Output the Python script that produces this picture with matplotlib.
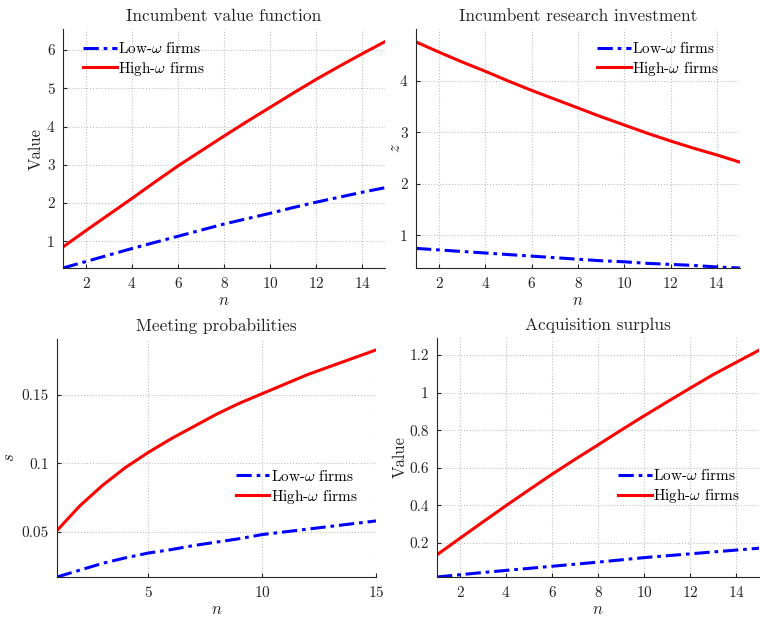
import numpy as np
import matplotlib
matplotlib.use('Agg')
import matplotlib.pyplot as plt
from matplotlib.ticker import FuncFormatter

plt.rcParams['font.family'] = ['cmr10', 'DejaVu Serif']
plt.rcParams['mathtext.fontset'] = 'cm'
plt.rcParams['axes.formatter.use_mathtext'] = True
plt.rcParams['font.size'] = 10

# firm count grid
n = np.arange(1, 16)

# Incumbent value function
value_low = [0.30, 0.47, 0.64, 0.81, 0.97, 1.13, 1.29, 1.45, 1.59, 1.73, 1.88, 2.02, 2.15, 2.28, 2.40]
value_high = [0.85, 1.28, 1.70, 2.12, 2.55, 2.97, 3.36, 3.75, 4.13, 4.50, 4.87, 5.23, 5.57, 5.90, 6.22]

# Incumbent research investment
z_low = [0.75, 0.72, 0.69, 0.66, 0.63, 0.60, 0.57, 0.54, 0.51, 0.49, 0.46, 0.44, 0.42, 0.39, 0.37]
z_high = [4.75, 4.55, 4.36, 4.18, 3.99, 3.81, 3.64, 3.47, 3.30, 3.14, 2.98, 2.83, 2.69, 2.56, 2.42]

# Meeting probabilities
s_low = [0.017, 0.022, 0.027, 0.031, 0.0345, 0.037, 0.040, 0.0425, 0.045, 0.048, 0.050, 0.052, 0.054, 0.056, 0.058]
s_high = [0.051, 0.069, 0.084, 0.097, 0.108, 0.118, 0.127, 0.136, 0.144, 0.151, 0.158, 0.165, 0.171, 0.177, 0.183]

# Acquisition surplus
surplus_low = [0.020, 0.032, 0.044, 0.055, 0.066, 0.077, 0.088, 0.099, 0.111, 0.123, 0.133, 0.143, 0.153, 0.163, 0.173]
surplus_high = [0.138, 0.226, 0.313, 0.399, 0.483, 0.566, 0.645, 0.722, 0.800, 0.876, 0.950, 1.023, 1.095, 1.160, 1.225]

labels = [r'Low-$\omega$ firms', r'High-$\omega$ firms']
dark = '#262626'

fig = plt.figure(figsize=(7.6, 6.18), dpi=100)

# axes rectangles in pixels: left, right, top, bottom
boxes = [(63, 385, 29, 268), (416, 740, 29, 268), (57, 376, 339, 577), (437, 759, 338, 577)]
panels = [
    ('Incumbent value function', 'Value', value_low, value_high, (0.30, 6.55), [1, 2, 3, 4, 5, 6], range(2, 16, 2), (0.062, 0.95), 2),
    ('Incumbent research investment', '$z$', z_low, z_high, (0.37, 5.0), [1, 2, 3, 4], range(2, 16, 2), (0.559, 0.95), -2),
    ('Meeting probabilities', '$s$', s_low, s_high, (0.017, 0.191), [0.05, 0.1, 0.15], [5, 10, 15], (0.56, 0.455), 3),
    ('Acquisition surplus', 'Value', surplus_low, surplus_high, (0.02, 1.29), [0.2, 0.4, 0.6, 0.8, 1, 1.2], range(2, 16, 2), (0.562, 0.455), 1),
]

for (l, r, t, b), (title, ylab, lo, hi, ylim, yt, xt, lpos, ypad) in zip(boxes, panels):
    ax = fig.add_axes([l / 760, 1 - b / 618, (r - l) / 760, (b - t) / 618])
    ax.plot(n, lo, color='blue', lw=2.2, linestyle=(0, (5, 1.6, 1.2, 1.6)), label=labels[0])
    ax.plot(n, hi, color='red', lw=2.2, label=labels[1])
    ax.set_xlim(1, 15)
    ax.set_ylim(*ylim)
    ax.set_xticks(list(xt))
    ax.set_yticks(yt)
    ax.yaxis.set_major_formatter(FuncFormatter(lambda v, p: '%g' % v))
    ax.grid(True, linestyle=':', color='#c0c0c0', linewidth=0.8)
    for side in ['top', 'right']:
        ax.spines[side].set_visible(False)
    for side in ['left', 'bottom']:
        ax.spines[side].set_color(dark)
        ax.spines[side].set_linewidth(0.8)
    ax.tick_params(direction='in', length=3, colors=dark, labelsize=11, pad=6)
    ax.set_title(title, fontsize=12.5, color=dark, pad=6)
    ax.set_xlabel('$n$', fontsize=12, color=dark, labelpad=1)
    ax.set_ylabel(ylab, fontsize=12, color=dark, labelpad=ypad)
    ax.legend(loc='upper left', bbox_to_anchor=lpos, frameon=False, borderpad=0,
              borderaxespad=0, handlelength=2.2, handletextpad=0.1, labelspacing=0.25,
              fontsize=11)

fig.savefig('out.png', dpi=100)
